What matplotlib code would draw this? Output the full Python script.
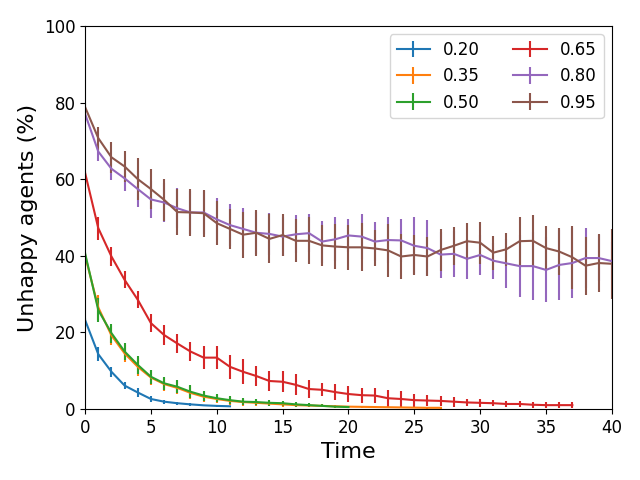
import numpy as np
import matplotlib.pyplot as plt

# 各阈值下的不满意比例 (%) 与误差
labels = ['0.20', '0.35', '0.50', '0.65', '0.80', '0.95']

y_020 = [23.2, 14.3, 9.7, 6.1, 4.3, 2.6, 1.9, 1.5, 1.2, 0.95, 0.8, 0.7]
e_020 = [0.5, 1.8, 1.3, 1.0, 1.1, 0.7, 0.5, 0.4, 0.3, 0.2, 0.2, 0.2]

y_035 = [40.0, 26.5, 19.2, 14.5, 11.0, 8.2, 6.5, 5.5, 4.2, 3.2, 2.6, 2.1, 1.8, 1.6, 1.4,
         1.2, 1.0, 0.9, 0.8, 0.7, 0.6, 0.55, 0.5, 0.45, 0.4, 0.35, 0.3, 0.3]
e_035 = [0.5, 3.2, 2.5, 2.3, 2.3, 1.9, 1.7, 1.7, 1.7, 1.3, 1.1, 1.0, 0.9, 0.8, 0.7,
         0.6, 0.5, 0.4, 0.4, 0.3, 0.3, 0.3, 0.2, 0.2, 0.2, 0.2, 0.2, 0.2]

y_050 = [40.6, 25.8, 19.8, 15.0, 11.5, 8.4, 6.7, 5.8, 4.5, 3.5, 2.8, 2.3, 1.9, 1.8, 1.6,
         1.5, 1.2, 1.0, 0.8, 0.6, 0.5]
e_050 = [0.5, 3.2, 2.5, 2.3, 2.3, 1.9, 1.7, 1.7, 1.7, 1.3, 1.1, 1.1, 0.9, 0.8, 0.7,
         0.7, 0.6, 0.5, 0.4, 0.3, 0.3]

y_065 = [61.6, 47.2, 39.8, 33.7, 28.5, 22.4, 19.3, 17.1, 15.0, 13.4, 13.4, 11.0, 9.7, 8.6,
         7.3, 7.1, 6.3, 5.2, 5.0, 4.4, 3.9, 3.6, 3.5, 2.8, 2.6, 2.3, 2.2, 2.1, 1.9, 1.7,
         1.6, 1.5, 1.3, 1.3, 1.1, 1.0, 1.0, 1.0]
e_065 = [0.5, 3.0, 2.4, 2.2, 2.2, 2.4, 2.6, 2.6, 2.6, 3.0, 3.0, 3.1, 3.3, 2.7, 2.7,
         2.7, 2.7, 2.3, 1.7, 2.1, 2.2, 2.0, 1.9, 2.2, 2.1, 1.7, 1.5, 1.4, 1.3, 1.0,
         1.0, 0.8, 0.8, 0.8, 0.8, 0.8, 0.8, 0.8]

y_080 = [77.0, 67.2, 62.7, 60.2, 57.4, 54.7, 53.9, 52.4, 51.3, 51.3, 49.5, 48.0, 47.0,
         46.0, 45.7, 45.0, 45.6, 45.9, 43.7, 44.3, 45.3, 45.0, 43.7, 44.1, 44.0, 42.6,
         42.0, 40.3, 40.5, 39.2, 40.2, 38.7, 38.0, 37.3, 37.3, 36.3, 37.6, 38.1, 39.4,
         39.4, 38.6]
e_080 = [1.0, 2.5, 3.0, 3.2, 4.7, 4.9, 5.0, 5.2, 5.5, 5.5, 5.5, 5.5, 5.5, 5.5, 5.5,
         5.0, 5.0, 5.0, 5.5, 5.7, 4.3, 5.9, 5.0, 5.9, 5.6, 7.4, 7.3, 6.0, 6.0, 5.3,
         5.2, 4.7, 6.3, 8.0, 8.8, 8.5, 9.1, 9.2, 7.9, 6.0, 5.0]

y_095 = [78.8, 70.7, 65.7, 63.3, 60.0, 57.4, 54.6, 51.4, 51.3, 51.1, 48.5, 47.0, 45.5,
         46.0, 44.4, 45.4, 43.9, 43.9, 42.7, 42.4, 42.2, 42.2, 41.9, 41.4, 39.8, 40.2,
         39.8, 41.5, 42.6, 43.8, 43.4, 40.8, 41.7, 43.8, 43.9, 42.0, 41.1, 39.6, 37.4,
         38.1, 37.9]
e_095 = [1.0, 3.0, 4.1, 4.1, 5.4, 5.3, 5.4, 6.0, 6.1, 6.1, 5.8, 5.2, 6.0, 6.0, 6.4,
         5.5, 5.6, 6.1, 5.3, 5.9, 5.9, 6.3, 4.7, 7.0, 6.0, 5.2, 5.2, 5.5, 5.0, 4.8,
         5.5, 4.4, 4.3, 6.4, 6.8, 5.8, 6.2, 8.2, 7.6, 7.6, 9.1]

series = [(y_020, e_020), (y_035, e_035), (y_050, e_050),
          (y_065, e_065), (y_080, e_080), (y_095, e_095)]

fig = plt.figure(figsize=(6.4, 4.8), dpi=100)
ax = fig.add_axes([0.133, 0.148, 0.823, 0.798])

for lab, (y, e) in zip(labels, series):
    t = np.arange(len(y))
    ax.errorbar(t, y, yerr=e, label=lab)

ax.set_xlim(0, 40)
ax.set_ylim(0, 100)
ax.set_xlabel('Time', fontsize=16)
ax.set_ylabel('Unhappy agents (%)', fontsize=16)
ax.tick_params(labelsize=12)
ax.legend(ncol=2, loc='upper right', fontsize=12)

plt.savefig('out.png', dpi=100)
